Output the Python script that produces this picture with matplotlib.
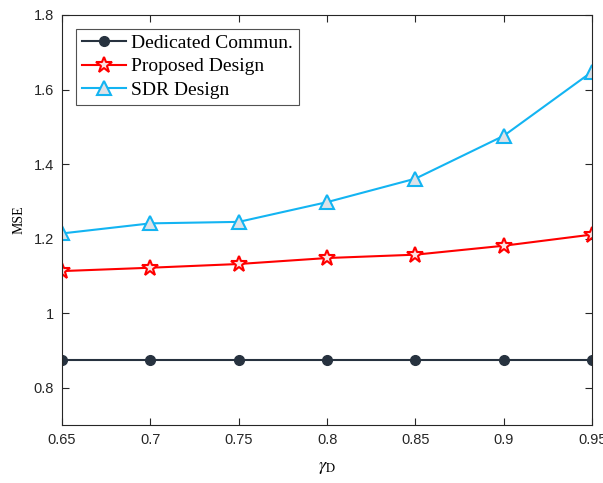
import matplotlib.pyplot as plt
import numpy as np

gamma_d = [0.65, 0.7, 0.75, 0.8, 0.85, 0.9, 0.95]
mse_dedicated = [0.875, 0.875, 0.875, 0.875, 0.875, 0.875, 0.875]
mse_proposed = [1.113, 1.122, 1.132, 1.148, 1.157, 1.181, 1.211]
mse_sdr = [1.214, 1.241, 1.245, 1.298, 1.361, 1.476, 1.648]

xticks = [0.65, 0.7, 0.75, 0.8, 0.85, 0.9, 0.95]
xtick_labels = ['0.65', '0.7', '0.75', '0.8', '0.85', '0.9', '0.95']
yticks = [0.8, 1.0, 1.2, 1.4, 1.6, 1.8]
ytick_labels = ['0.8', '1', '1.2', '1.4', '1.6', '1.8']

plt.rcParams['mathtext.fontset'] = 'stix'

fig = plt.figure(figsize=(6.03, 4.83), dpi=100)
ax = fig.add_axes([0.103, 0.120, 0.879, 0.849])

ax.plot(gamma_d, mse_dedicated, '-o', color='#27323f', lw=1.5,
        markersize=7, label='Dedicated Commun.')
ax.plot(gamma_d, mse_proposed, '-*', color='#ff0000', lw=1.5,
        markersize=12, markerfacecolor='#fbe3e3', markeredgecolor='#ff0000',
        markeredgewidth=1.5, label='Proposed Design')
ax.plot(gamma_d, mse_sdr, '-^', color='#13b4f2', lw=1.5,
        markersize=10, markerfacecolor='#dde2e8', markeredgecolor='#13b4f2',
        markeredgewidth=1.5, label='SDR Design')

ax.set_xlim(0.65, 0.95)
ax.set_ylim(0.7, 1.8)
ax.set_xticks(xticks, xtick_labels)
ax.set_yticks(yticks, ytick_labels)
for lab in ax.get_xticklabels() + ax.get_yticklabels():
    lab.set_family('Liberation Sans')
    lab.set_fontsize(10.5)
    lab.set_color('#262626')
ax.tick_params(direction='in', top=True, right=True, length=5, width=0.8,
               colors='#262626', pad=6)
for s in ax.spines.values():
    s.set_color('#262626')
    s.set_linewidth(0.8)

ax.set_xlabel(r'$\gamma_{\mathrm{D}}$', fontsize=13, labelpad=8)
ax.set_ylabel('MSE', fontsize=10, family='Liberation Serif', labelpad=6)

leg = ax.legend(loc='upper left', prop={'family': 'Liberation Serif', 'size': 14},
                fancybox=False, edgecolor='#262626', handlelength=2.3,
                handletextpad=0.25, labelspacing=0.3, borderpad=0.3,
                borderaxespad=0.7)
leg.get_frame().set_linewidth(0.8)

fig.savefig('out.png', dpi=100)
